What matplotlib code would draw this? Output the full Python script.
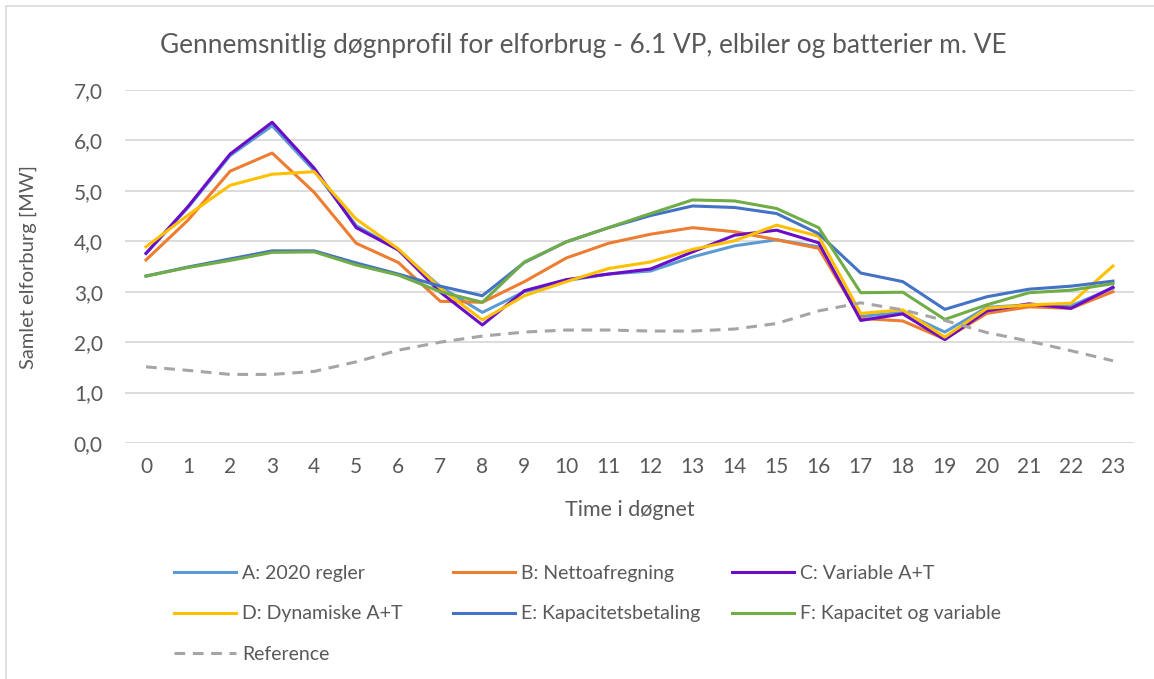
import matplotlib
matplotlib.use("Agg")
import matplotlib.pyplot as plt
from matplotlib.patches import Rectangle
from matplotlib.ticker import FuncFormatter

plt.rcParams['font.family'] = ['Lato', 'DejaVu Sans']

# timer i døgnet
hours = list(range(24))

# samlet elforbrug [MW] pr. scenarie
a_2020 = [3.76, 4.67, 5.70, 6.29, 5.40, 4.31, 3.83, 3.10, 2.59, 3.00, 3.22, 3.35,
          3.41, 3.69, 3.91, 4.03, 3.89, 2.51, 2.59, 2.20, 2.69, 2.74, 2.72, 3.07]
b_netto = [3.63, 4.42, 5.39, 5.75, 4.97, 3.96, 3.58, 2.81, 2.79, 3.20, 3.67, 3.96,
           4.14, 4.27, 4.19, 4.03, 3.86, 2.47, 2.42, 2.06, 2.57, 2.70, 2.67, 3.00]
c_variable = [3.76, 4.69, 5.73, 6.36, 5.45, 4.27, 3.83, 2.99, 2.34, 3.02, 3.24, 3.35,
              3.45, 3.79, 4.12, 4.22, 3.97, 2.43, 2.56, 2.05, 2.62, 2.76, 2.67, 3.09]
d_dynamiske = [3.89, 4.52, 5.11, 5.33, 5.38, 4.44, 3.85, 3.07, 2.44, 2.92, 3.20, 3.46,
               3.59, 3.84, 4.01, 4.32, 4.10, 2.57, 2.64, 2.10, 2.67, 2.74, 2.77, 3.51]
e_kapacitet = [3.31, 3.49, 3.65, 3.81, 3.81, 3.57, 3.35, 3.11, 2.92, 3.58, 3.99, 4.27,
               4.51, 4.70, 4.67, 4.55, 4.15, 3.37, 3.20, 2.65, 2.90, 3.05, 3.11, 3.21]
f_kap_var = [3.31, 3.48, 3.62, 3.78, 3.79, 3.53, 3.33, 3.00, 2.79, 3.59, 3.99, 4.27,
             4.55, 4.82, 4.80, 4.65, 4.27, 2.98, 2.99, 2.45, 2.74, 2.98, 3.03, 3.16]
reference = [1.51, 1.44, 1.36, 1.36, 1.42, 1.61, 1.84, 2.00, 2.12, 2.20, 2.24, 2.24,
             2.22, 2.22, 2.26, 2.37, 2.62, 2.78, 2.64, 2.43, 2.19, 2.02, 1.83, 1.63]

labels = ["A: 2020 regler", "B: Nettoafregning", "C: Variable A+T",
          "D: Dynamiske A+T", "E: Kapacitetsbetaling", "F: Kapacitet og variable"]
series = [a_2020, b_netto, c_variable, d_dynamiske, e_kapacitet, f_kap_var]
colors = ["#5B9BD5", "#ED7D31", "#6A0DC8", "#FFC000", "#4472C4", "#70AD47"]
ref_color = "#A5A5A5"
txt = "#595959"

W, H = 1154, 679
fig = plt.figure(figsize=(W / 100, H / 100), dpi=100)

# ramme om diagrammet (kun venstre og top er synlige)
fig.patches.append(Rectangle((6 / W, -0.1), 1.2, 1 - 6 / H + 0.1, transform=fig.transFigure,
                             fill=False, edgecolor="#D9D9D9", lw=1.2))

ax = fig.add_axes([125 / W, 1 - 443 / H, (1134 - 125) / W, (443 - 90) / H])

for vals, col, lab in zip(series, colors, labels):
    ax.plot(hours, vals, color=col, lw=2.2, label=lab)
ax.plot(hours, reference, color=ref_color, lw=2.2, ls=(0, (3.5, 2.5)), label="Reference")

ax.set_xlim(-0.5, 23.5)
ax.set_ylim(0, 7)
ax.set_yticks(range(8))
ax.yaxis.set_major_formatter(FuncFormatter(lambda v, p: f"{v:.1f}".replace(".", ",")))
ax.set_xticks(hours)
ax.grid(axis='y', color="#D9D9D9", lw=1.3)
ax.set_axisbelow(True)
for s in ax.spines.values():
    s.set_visible(False)
ax.tick_params(length=0, labelsize=15, colors=txt)
ax.tick_params(axis='y', pad=16)
ax.tick_params(axis='x', pad=10)

ax.set_xlabel("Time i døgnet", fontsize=15.5, color=txt)
ax.xaxis.set_label_coords(0.5, 1 - (510 - 90) / (443 - 90), transform=ax.transAxes)
ax.xaxis.label.set_va('center')
ax.set_ylabel("Samlet elforburg [MW]", fontsize=14.5, color=txt)
ax.yaxis.set_label_coords((28 - 125) / (1134 - 125), 1 - (267 - 90) / (443 - 90))
ax.yaxis.label.set_va('center')
fig.text(583 / W, 1 - 45 / H, "Gennemsnitlig døgnprofil for elforbrug - 6.1 VP, elbiler og batterier m. VE",
         ha='center', va='center', fontsize=18.9, color=txt)

# forklaring i tre kolonner
handles, labs = ax.get_legend_handles_labels()
cols = [[0, 3, 6], [1, 4], [2, 5]]
xs = [174, 453, 732]
for idx, x0 in zip(cols, xs):
    leg = fig.legend([handles[i] for i in idx], [labs[i] for i in idx],
                     loc='upper left', bbox_to_anchor=(x0 / W, 1 - 565 / H),
                     frameon=False, fontsize=14, handlelength=3.2, handletextpad=0.3,
                     labelspacing=1.2, borderaxespad=0, borderpad=0)
    for t in leg.get_texts():
        t.set_color(txt)

fig.savefig("out.png", dpi=100)
